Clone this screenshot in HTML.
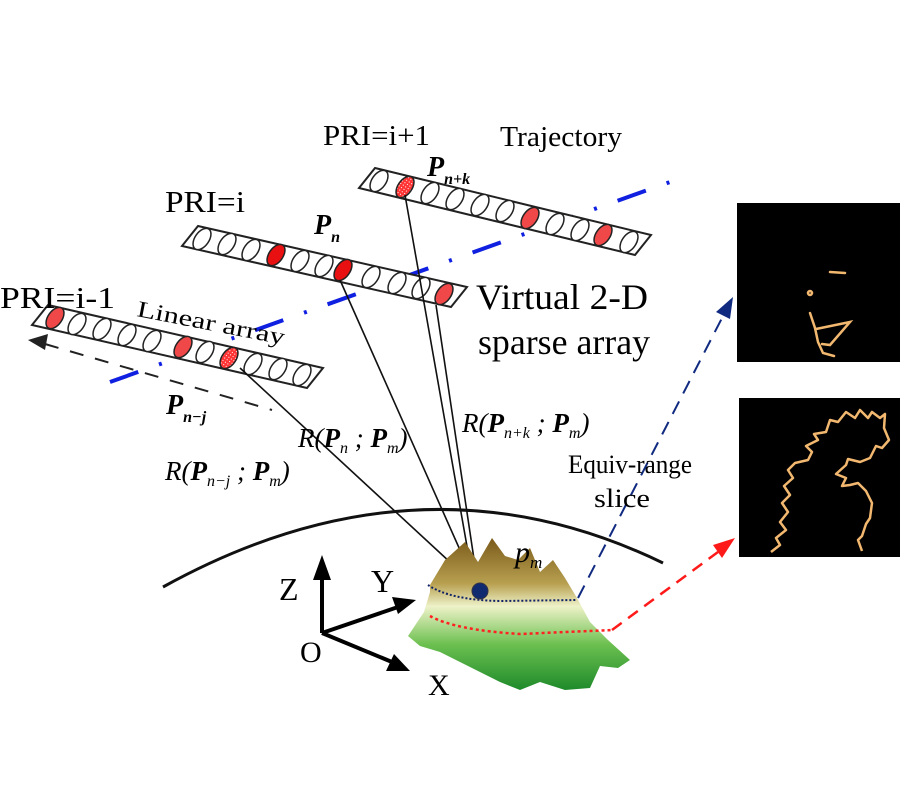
<!DOCTYPE html>
<html><head><meta charset="utf-8"><style>
html,body{margin:0;padding:0;background:#fff;}
svg{display:block;}
text{font-family:"Liberation Serif",serif;}
</style></head><body>
<svg width="900" height="800" viewBox="0 0 900 800" xmlns="http://www.w3.org/2000/svg">
<defs>
<linearGradient id="terr" x1="0" y1="0" x2="0" y2="1">
<stop offset="0" stop-color="#7a5a1a"/>
<stop offset="0.3" stop-color="#b8a050"/>
<stop offset="0.45" stop-color="#eef2c8"/>
<stop offset="0.7" stop-color="#6cc050"/>
<stop offset="1" stop-color="#1e8a2a"/>
</linearGradient>
<pattern id="hatch" width="3" height="3" patternUnits="userSpaceOnUse"><rect width="3" height="3" fill="#f33"/><rect width="1" height="1" fill="#fff"/></pattern>
</defs>

<!-- trajectory -->
<path d="M110,382 L670,182" stroke="#1020e0" stroke-width="4" fill="none" stroke-dasharray="30,22,3,22"/>

<g stroke="#222" stroke-width="1.5">
<!-- Array PRI=i+1 -->
<polygon points="375,168 651,235 635,255 359,188" fill="#fff" stroke-width="2"/>
<g fill="#fff">
<ellipse cx="379" cy="181" rx="7" ry="12" transform="rotate(35 379 181)"/>
<ellipse cx="405" cy="187" rx="7" ry="12" transform="rotate(35 405 187)" fill="url(#hatch)"/>
<ellipse cx="430" cy="193" rx="7" ry="12" transform="rotate(35 430 193)"/>
<ellipse cx="455" cy="199" rx="7" ry="12" transform="rotate(35 455 199)"/>
<ellipse cx="480" cy="205" rx="7" ry="12" transform="rotate(35 480 205)"/>
<ellipse cx="505" cy="211" rx="7" ry="12" transform="rotate(35 505 211)"/>
<ellipse cx="530" cy="218" rx="7" ry="12" transform="rotate(35 530 218)" fill="#f04848"/>
<ellipse cx="555" cy="224" rx="7" ry="12" transform="rotate(35 555 224)"/>
<ellipse cx="580" cy="230" rx="7" ry="12" transform="rotate(35 580 230)"/>
<ellipse cx="603" cy="235" rx="7" ry="12" transform="rotate(35 603 235)" fill="#f04848"/>
<ellipse cx="629" cy="242" rx="7" ry="12" transform="rotate(35 629 242)"/>
</g>

<!-- Array PRI=i -->
<polygon points="198,226 467,287 451,307 182,246" fill="#fff" stroke-width="2"/>
<g fill="#fff">
<ellipse cx="202" cy="239" rx="7" ry="12" transform="rotate(35 202 239)"/>
<ellipse cx="227" cy="244" rx="7" ry="12" transform="rotate(35 227 244)"/>
<ellipse cx="251" cy="250" rx="7" ry="12" transform="rotate(35 251 250)"/>
<ellipse cx="276" cy="255" rx="7" ry="12" transform="rotate(35 276 255)" fill="#e81010"/>
<ellipse cx="300" cy="261" rx="7" ry="12" transform="rotate(35 300 261)"/>
<ellipse cx="324" cy="266" rx="7" ry="12" transform="rotate(35 324 266)"/>
<ellipse cx="343" cy="270" rx="7" ry="12" transform="rotate(35 343 270)" fill="#e81010"/>
<ellipse cx="371" cy="277" rx="7" ry="12" transform="rotate(35 371 277)"/>
<ellipse cx="397" cy="283" rx="7" ry="12" transform="rotate(35 397 283)"/>
<ellipse cx="421" cy="288" rx="7" ry="12" transform="rotate(35 421 288)"/>
<ellipse cx="444" cy="294" rx="7" ry="12" transform="rotate(35 444 294)" fill="#f04848"/>
</g>

<!-- Array PRI=i-1 -->
<polygon points="48,305 323,368 307,388 32,325" fill="#fff" stroke-width="2"/>
<g fill="#fff">
<ellipse cx="55" cy="318" rx="7" ry="12" transform="rotate(35 55 318)" fill="#f04848"/>
<ellipse cx="77" cy="324" rx="7" ry="12" transform="rotate(35 77 324)"/>
<ellipse cx="102" cy="329" rx="7" ry="12" transform="rotate(35 102 329)"/>
<ellipse cx="127" cy="335" rx="7" ry="12" transform="rotate(35 127 335)"/>
<ellipse cx="152" cy="341" rx="7" ry="12" transform="rotate(35 152 341)"/>
<ellipse cx="183" cy="347" rx="7" ry="12" transform="rotate(35 183 347)" fill="#f04848"/>
<ellipse cx="205" cy="352" rx="7" ry="12" transform="rotate(35 205 352)"/>
<ellipse cx="229" cy="358" rx="7" ry="12" transform="rotate(35 229 358)" fill="url(#hatch)"/>
<ellipse cx="253" cy="364" rx="7" ry="12" transform="rotate(35 253 364)"/>
<ellipse cx="278" cy="369" rx="7" ry="12" transform="rotate(35 278 369)"/>
<ellipse cx="302" cy="375" rx="7" ry="12" transform="rotate(35 302 375)"/>
</g>
</g>

<!-- Pn-j dashed line with arrow -->
<path d="M45,344 L272,410" stroke="#222" stroke-width="2" stroke-dasharray="14,12" fill="none"/>
<polygon points="28,340 48,334 45,350" fill="#222"/>

<!-- range lines -->
<g stroke="#111" stroke-width="1.6" fill="none">
<path d="M240,368 L478,588"/>
<path d="M340,280 L476,586"/>
<path d="M436,305 L478,586"/>
<path d="M405,195 L474,586"/>
</g>

<!-- arc -->
<path d="M163,587 Q420,445 663,563" stroke="#111" stroke-width="3" fill="none"/>

<!-- axes -->
<g stroke="#000" stroke-width="4" fill="#000">
<line x1="322" y1="633" x2="322" y2="575"/>
<polygon points="322,555 313,580 331,580" stroke="none"/>
<line x1="322" y1="633" x2="398" y2="607"/>
<polygon points="416,600 392,597 398,614" stroke="none"/>
<line x1="322" y1="633" x2="392" y2="662"/>
<polygon points="410,671 386,671 394,654" stroke="none"/>
</g>
<text x="279" y="600" font-size="32">Z</text>
<text x="371" y="592" font-size="32">Y</text>
<text x="300" y="662" font-size="30">O</text>
<text x="428" y="695" font-size="30">X</text>

<!-- terrain -->
<polygon points="430,585 445,560 465,542 478,562 492,538 505,556 518,560 530,548 540,572 553,560 565,578 577,598 590,622 608,640 630,660 618,668 600,666 590,688 565,690 540,682 520,690 500,682 480,672 460,662 440,652 420,646 408,636 424,612 430,592" fill="url(#terr)"/>
<path d="M428,585 Q450,600 500,601 L577,600" stroke="#112266" stroke-width="2" stroke-dasharray="2,2" fill="none"/>
<path d="M430,616 Q455,630 520,634 L612,630" stroke="#ff2020" stroke-width="2.5" stroke-dasharray="3,3" fill="none"/>
<circle cx="480" cy="591" r="8" fill="#102a70" stroke="#334" stroke-width="1"/>

<!-- slice arrows -->
<path d="M578,598 L722,318" stroke="#102a80" stroke-width="2" stroke-dasharray="14,9" fill="none"/>
<polygon points="733,297 716,312 730,319" fill="#102a80"/>
<path d="M612,630 L718,552" stroke="#ff1a1a" stroke-width="2.5" stroke-dasharray="12,8" fill="none"/>
<polygon points="735,538 713,545 722,558" fill="#ff1a1a"/>

<!-- images -->
<rect x="737" y="203" width="163" height="159" fill="#000"/>
<g stroke="#f2b870" stroke-width="2.5" fill="none" stroke-linecap="round">
<path d="M830,272 L845,273"/>
<circle cx="810" cy="293" r="2"/>
<path d="M810,313 L815,328 L818,342 L823,353 L834,356 M816,329 L850,322 L830,345 L822,344"/>
</g>
<rect x="739" y="398" width="161" height="159" fill="#000"/>
<g stroke="#f2b870" stroke-width="2.5" fill="none" stroke-linejoin="round">
<path d="M771,552 L780,545 L776,538 L786,530 L780,522 L788,512 L782,503 L790,495 L784,486 L793,478 L788,470 L795,463 L808,460 L812,452 L806,446 L818,440 L814,434 L826,432 L830,420 L838,422 L846,412 L855,418 L860,410 L868,418 L872,412 L880,418 L885,414 L884,428 L889,440 L882,448 L876,446 L870,458 L860,462 L848,459 L846,465 L836,474 L846,478 L842,486 L850,485 L858,483 L866,491 L872,503 L870,518 L866,524 L862,536 L858,540 L862,551"/>
</g>

<!-- labels -->
<text x="323" y="145" font-size="28" textLength="107" lengthAdjust="spacingAndGlyphs">PRI=i+1</text>
<text x="500" y="146" font-size="28" textLength="122" lengthAdjust="spacingAndGlyphs">Trajectory</text>
<text x="165" y="212" font-size="31" textLength="80" lengthAdjust="spacingAndGlyphs">PRI=i</text>
<text x="0" y="308" font-size="31" textLength="115" lengthAdjust="spacingAndGlyphs">PRI=i-1</text>
<text x="136" y="316" font-size="23" transform="rotate(11 136 316)" textLength="150" lengthAdjust="spacingAndGlyphs">Linear array</text>
<text x="476" y="309" font-size="36" textLength="172" lengthAdjust="spacingAndGlyphs">Virtual 2-D</text>
<text x="478" y="354" font-size="36" textLength="172" lengthAdjust="spacingAndGlyphs">sparse array</text>
<text x="568" y="473" font-size="26" textLength="124" lengthAdjust="spacingAndGlyphs">Equiv-range</text>
<text x="594" y="507" font-size="26" textLength="56" lengthAdjust="spacingAndGlyphs">slice</text>

<g font-style="italic" font-size="28">
<text x="427" y="176" font-weight="bold">P<tspan font-size="16" dy="8">n+k</tspan></text>
<text x="314" y="234" font-weight="bold">P<tspan font-size="16" dy="8">n</tspan></text>
<text x="166" y="414" font-weight="bold">P<tspan font-size="16" dy="8">n−j</tspan></text>
<text x="515" y="562" font-size="30">p<tspan font-size="17" dy="6">m</tspan></text>
<text x="298" y="447" font-size="27">R(<tspan font-weight="bold">P</tspan><tspan font-size="16" dy="6">n</tspan><tspan dy="-6"> ; </tspan><tspan font-weight="bold">P</tspan><tspan font-size="16" dy="6">m</tspan><tspan dy="-6">)</tspan></text>
<text x="462" y="432" font-size="27">R(<tspan font-weight="bold">P</tspan><tspan font-size="16" dy="6">n+k</tspan><tspan dy="-6"> ; </tspan><tspan font-weight="bold">P</tspan><tspan font-size="16" dy="6">m</tspan><tspan dy="-6">)</tspan></text>
<text x="165" y="480" font-size="27">R(<tspan font-weight="bold">P</tspan><tspan font-size="16" dy="6">n−j</tspan><tspan dy="-6"> ; </tspan><tspan font-weight="bold">P</tspan><tspan font-size="16" dy="6">m</tspan><tspan dy="-6">)</tspan></text>
</g>
</svg>
</body></html>
